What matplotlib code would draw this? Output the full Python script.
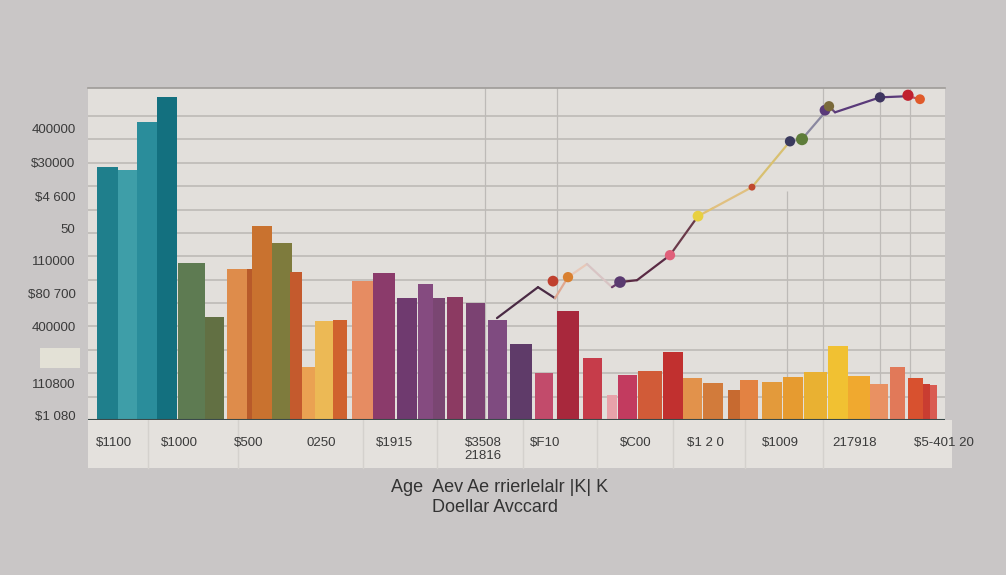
import matplotlib.pyplot as plt
from matplotlib.patches import Rectangle

# bars: left edge, width, height (chart units)
bar_left = [0.9, 3.0, 4.9, 6.9, 9.0, 11.7, 13.9, 15.9, 16.4, 18.4, 20.2, 21.4, 22.7, 24.5,
            26.4, 28.5, 30.9, 33.0, 34.5, 35.9, 37.8, 40.0, 42.2, 44.7, 46.9, 49.5, 51.9,
            53.0, 55.0, 57.5, 59.5, 61.5, 64.0, 65.2, 67.4, 69.5, 71.6, 74.0, 76.0, 78.2,
            80.2, 82.0, 83.5, 84.2]
bar_width = [2.1, 1.9, 2.0, 2.0, 2.7, 1.9, 2.0, 0.5, 2.0, 2.0, 1.2, 1.3, 1.8, 1.4,
             2.1, 2.2, 2.0, 1.5, 1.2, 1.6, 1.9, 1.9, 2.2, 1.8, 2.2, 1.9, 1.0,
             1.9, 2.4, 2.0, 1.9, 2.0, 1.5, 1.8, 2.0, 2.0, 2.3, 2.0, 2.2, 1.8,
             1.5, 1.5, 0.7, 0.7]
bar_height = [10.81, 10.68, 12.74, 13.80, 6.71, 4.40, 6.45, 6.45, 8.29, 7.56, 6.32, 2.26,
              4.23, 4.27, 5.94, 6.28, 5.21, 5.81, 5.21, 5.26, 5.00, 4.27, 3.25, 2.01,
              4.66, 2.65, 1.07, 1.92, 2.09, 2.91, 1.79, 1.58, 1.28, 1.71, 1.62, 1.84,
              2.05, 3.16, 1.88, 1.54, 2.26, 1.79, 1.54, 1.50]
bar_colors = ["#1f7f8c", "#3e9ea8", "#2a8d9b", "#13707f", "#5e7b52", "#627043", "#de8c4b",
              "#b85a2a", "#c9722f", "#7e7b3d", "#c45a2d", "#eaa252", "#ecb955", "#d0622e",
              "#e68c62", "#8b3b6b", "#6f3a6f", "#854b80", "#7a4672", "#8c3a62", "#7b4272",
              "#7f4b80", "#5f3b69", "#c24b6b", "#a8283c", "#c63c4a", "#e8a2aa", "#c23b5f",
              "#d15b38", "#c1302f", "#e2924b", "#d27b3b", "#c76a30", "#e38242", "#e39a3b",
              "#e69b30", "#e9b132", "#f1c132", "#f0a92f", "#e99162", "#e17959", "#d8512f",
              "#c93d31", "#d95b52"]

# trend line
line_x = [40.9, 45.0, 46.7, 48.0, 49.9, 52.4, 53.2, 54.9, 58.2, 61.0, 62.5, 66.4,
          70.2, 71.4, 73.7, 74.1, 74.7, 79.2, 82.0, 83.2]
line_y = [4.36, 5.68, 5.21, 6.11, 6.67, 5.68, 5.90, 5.98, 7.05, 8.72, 9.06, 9.96,
          11.92, 12.01, 13.16, 13.42, 13.16, 13.80, 13.85, 13.72]
seg_colors = ["#4a2a44", "#4a2a44", "#e0a890", "#e8c8b8", "#d8c4c4", "#6a3a6a", "#5a2a44",
              "#5a2a44", "#6a3a4a", "#e0c070", "#e0c080", "#d8c070", "#9a98a8", "#8a88a0",
              "#6a4a7a", "#6a4a7a", "#5a3a7a", "#5a3a7a", "#c05060"]

dot_x = [46.5, 48.0, 53.2, 58.2, 61.0, 66.4, 70.2, 71.4, 73.7, 74.1, 79.2, 82.0, 83.2]
dot_y = [5.94, 6.11, 5.90, 7.05, 8.72, 9.96, 11.92, 12.01, 13.25, 13.42, 13.80, 13.89, 13.72]
dot_colors = ["#c0402e", "#d98030", "#5a3a70", "#e0607a", "#e8d040", "#c04a30", "#3a3a5e",
              "#5e7d3a", "#5a3a7a", "#7a6a3a", "#3e3560", "#c0202e", "#e05a2a"]
dot_sizes = [60, 55, 70, 55, 60, 25, 55, 75, 60, 55, 55, 65, 50]

vlines_x = [39.7, 46.9, 73.5, 79.2, 82.2]
vline_part_x = [69.9]

xtick_pos = [2.6, 9.1, 16.1, 23.3, 30.6, 39.5, 45.7, 54.8, 61.7, 69.2, 76.7, 85.6]
xtick_labels = ["$1100", "$1000", "$500", "0250", "$1915", "$3508\n21816", "$F10",
                "$C00", "$1 2 0", "$1009", "217918", "$5-401 20"]
ytick_pos = [12.48, 11.03, 9.57, 8.21, 6.84, 5.43, 4.02, 2.69, 1.58, 0.21]
ytick_labels = ["400000", "$30000", "$4 600", "50", "110000", "$80 700", "400000", "",
                "110800", "$1 080"]

fig = plt.figure(figsize=(10.06, 5.75), dpi=100, facecolor="#c9c6c6")

# label band under the chart
fig.patches.append(Rectangle((88 / 1006, 1 - 468 / 575), 864 / 1006, 48 / 575,
                             transform=fig.transFigure, facecolor="#e4e1dd",
                             edgecolor="none", zorder=-2))
fig.patches.append(Rectangle((40 / 1006, 1 - 368 / 575), 40 / 1006, 20 / 575,
                             transform=fig.transFigure, facecolor="#e3e1d6",
                             edgecolor="none", zorder=-2))
for sx in [148, 238, 363, 437, 523, 597, 673, 745, 823]:
    fig.add_artist(plt.Line2D([sx / 1006, sx / 1006], [1 - 468 / 575, 1 - 420 / 575],
                              color="#d4d1cd", lw=1, zorder=-1))

ax = fig.add_axes([88 / 1006, 1 - 420 / 575, 857 / 1006, 332 / 575])
ax.set_facecolor("#e2dfdb")
ax.set_xlim(0, 85.7)
ax.set_ylim(0, 14.2)

ax.hlines(range(1, 14), 0, 85.7, color="#c3c0bc", lw=1.4, zorder=1)
ax.vlines(vlines_x, 0, 14.2, color="#bdbab7", lw=0.9, zorder=1)
ax.vlines(vline_part_x, 0, 9.8, color="#bdbab7", lw=0.9, zorder=1)

ax.bar(bar_left, bar_height, width=bar_width, align="edge", color=bar_colors,
       edgecolor="none", zorder=2)

for i in range(len(line_x) - 1):
    ax.plot(line_x[i:i + 2], line_y[i:i + 2], color=seg_colors[i], lw=1.6, zorder=3,
            solid_capstyle="round")
ax.scatter(dot_x, dot_y, s=dot_sizes, c=dot_colors, zorder=4, edgecolors="none")

ax.set_xticks(xtick_pos)
ax.set_xticklabels(xtick_labels, fontsize=9.5, color="#3a3a3a", family="Liberation Sans")
ax.set_yticks(ytick_pos)
ax.set_yticklabels(ytick_labels, fontsize=9.5, color="#3a3a3a", family="Liberation Sans")
ax.tick_params(axis="x", length=0, pad=12)
ax.tick_params(axis="y", length=0, pad=9)

for side in ["left", "right", "bottom"]:
    ax.spines[side].set_visible(False)
ax.spines["top"].set_color("#9e9b98")
ax.spines["top"].set_linewidth(1.2)
ax.axhline(0, color="#3a4a4a", lw=1.5, zorder=5)

fig.text(500 / 1006, 1 - 487 / 575, "Age  Aev Ae rrierlelalr |K| K", ha="center",
         va="center", fontsize=13, color="#333333", family="Liberation Sans")
fig.text(495 / 1006, 1 - 508 / 575, "Doellar Avccard", ha="center", va="center",
         fontsize=13, color="#333333", family="Liberation Sans")

fig.savefig("out.png", dpi=100, facecolor=fig.get_facecolor())
